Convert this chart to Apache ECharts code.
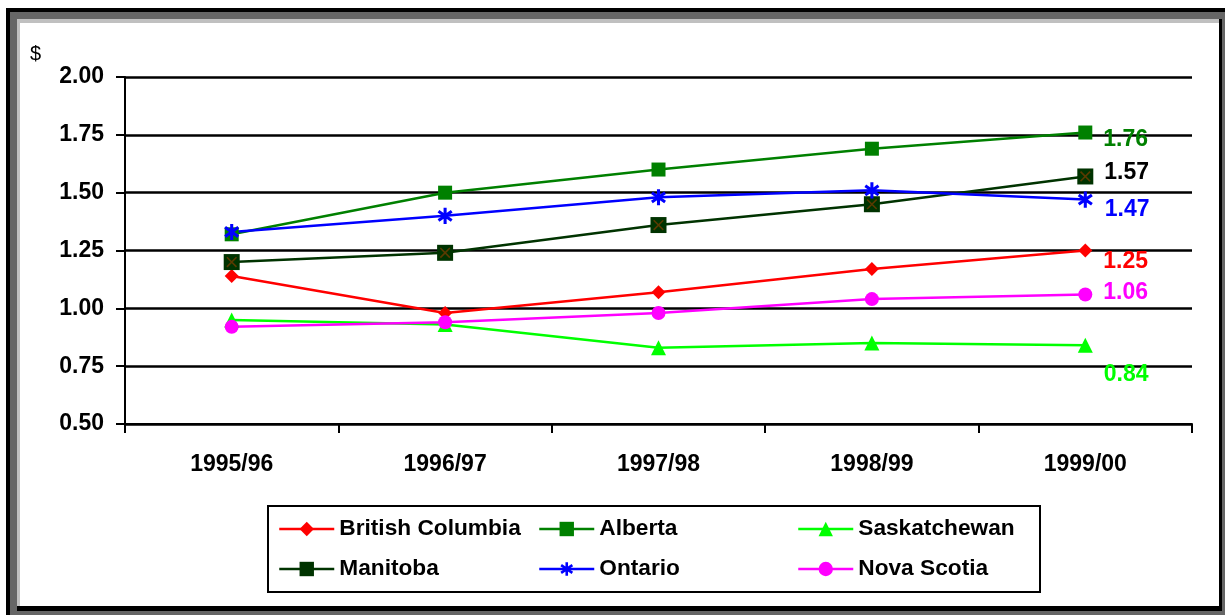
<!DOCTYPE html>
<html>
<head>
<meta charset="utf-8">
<script src="https://cdn.jsdelivr.net/npm/echarts@6/dist/echarts.min.js"></script>
<style>
  html, body { margin: 0; padding: 0; background: #fff; }
  #chart { width: 1225px; height: 615px; }
</style>
</head>
<body>
<div id="chart"></div>
<script>
// Cost per unit by province, fiscal years 1995/96 to 1999/00
const categories = ['1995/96', '1996/97', '1997/98', '1998/99', '1999/00'];
const yTicks = [0.5, 0.75, 1.0, 1.25, 1.5, 1.75, 2.0];

const britishColumbia = [1.14, 0.98, 1.07, 1.17, 1.25];
const alberta         = [1.32, 1.50, 1.60, 1.69, 1.76];
const saskatchewan    = [0.95, 0.93, 0.83, 0.85, 0.84];
const manitoba        = [1.20, 1.24, 1.36, 1.45, 1.57];
const ontario         = [1.33, 1.40, 1.48, 1.51, 1.47];
const novaScotia      = [0.92, 0.94, 0.98, 1.04, 1.06];

const FONT = '"Liberation Sans", Arial, sans-serif';

// Filled path made of thin bars radiating from the centre (asterisk / cross markers)
function barsPath(angles, half, w) {
  const c = 10;
  let d = '';
  angles.forEach(a => {
    const r = a * Math.PI / 180;
    const dx = Math.sin(r), dy = -Math.cos(r);
    const nx = Math.cos(r), ny = Math.sin(r);
    const p = [
      [c + dx * half + nx * w, c + dy * half + ny * w],
      [c + dx * half - nx * w, c + dy * half - ny * w],
      [c - dx * half - nx * w, c - dy * half - ny * w],
      [c - dx * half + nx * w, c - dy * half + ny * w]
    ].map(q => q[0].toFixed(2) + ' ' + q[1].toFixed(2));
    d += 'M' + p[0] + 'L' + p[1] + 'L' + p[2] + 'L' + p[3] + 'Z';
  });
  return 'path://M0 0ZM20 20Z' + d;
}
const asteriskSymbol = barsPath([0, 55, -55], 9.5, 1.8);
const crossSymbol = barsPath([45, -45], 9, 1.1);

// Last point carries a value label
function withEndLabel(values, color, dy) {
  const last = values.length - 1;
  return values.map((v, i) => i !== last ? v : {
    value: v,
    label: {
      show: true,
      position: 'right',
      distance: 11,
      offset: [0, dy],
      formatter: p => p.value.toFixed(2),
      color: color,
      fontFamily: FONT,
      fontWeight: 'bold',
      fontSize: 23
    }
  });
}

function lineSeries(name, values, color, symbol, size, labelColor, dy) {
  return {
    name: name,
    type: 'line',
    data: withEndLabel(values, labelColor, dy),
    symbol: symbol,
    symbolSize: size,
    showSymbol: true,
    lineStyle: { color: color, width: 2.5 },
    itemStyle: { color: color },
    emphasis: { disabled: true },
    animation: false
  };
}

const chart = echarts.init(document.getElementById('chart'));

const legendText = { fontFamily: FONT, fontWeight: 'bold', fontSize: 22.7, color: '#000', lineHeight: 24 };
function legendCol(left, names) {
  return {
    orient: 'vertical',
    left: left,
    top: 517,
    padding: 0,
    itemWidth: 55,
    itemHeight: 18,
    itemGap: 16,
    lineStyle: { width: 2.5 },
    textStyle: legendText,
    data: names,
    selectedMode: false
  };
}

chart.setOption({
  animation: false,
  backgroundColor: '#fff',
  graphic: {
    elements: [
      { type: 'rect', silent: true, shape: { x: 6, y: 8, width: 1219, height: 607 }, style: { fill: '#000' } },
      { type: 'rect', silent: true, shape: { x: 10, y: 12, width: 1215, height: 603 }, style: { fill: '#666666' } },
      { type: 'rect', silent: true, shape: { x: 17, y: 19, width: 1205, height: 592 }, style: { fill: '#000' } },
      { type: 'rect', silent: true, shape: { x: 17, y: 19, width: 1202, height: 587 }, style: { fill: '#c0c0c0' } },
      { type: 'rect', silent: true, shape: { x: 20, y: 23, width: 1199, height: 583 }, style: { fill: '#fff' } },
      { type: 'rect', silent: true, shape: { x: 268, y: 506, width: 772, height: 86 }, style: { fill: 'none', stroke: '#000', lineWidth: 2 } },
      { type: 'text', silent: true, x: 30, y: 44, style: { text: '$', font: '20px ' + FONT, fill: '#000' } }
    ]
  },
  legend: [
    legendCol(278, ['British Columbia', 'Manitoba']),
    legendCol(538, ['Alberta', 'Ontario']),
    legendCol(797, ['Saskatchewan', 'Nova Scotia'])
  ],
  grid: { left: 125, right: 33, top: 77, bottom: 191 },
  xAxis: {
    type: 'category',
    data: categories,
    boundaryGap: true,
    axisLine: { lineStyle: { color: '#000', width: 2 } },
    axisTick: { show: true, length: 9, interval: 0, lineStyle: { color: '#000', width: 2 } },
    axisLabel: { interval: 0, margin: 29, color: '#000', fontFamily: FONT, fontWeight: 'bold', fontSize: 23 },
    splitLine: { show: false }
  },
  yAxis: {
    type: 'value',
    min: yTicks[0],
    max: yTicks[yTicks.length - 1],
    interval: 0.25,
    axisLine: { show: true, lineStyle: { color: '#000', width: 2 } },
    axisTick: { show: true, length: 9, lineStyle: { color: '#000', width: 2 } },
    axisLabel: { margin: 21, color: '#000', fontFamily: FONT, fontWeight: 'bold', fontSize: 23, formatter: v => v.toFixed(2) },
    splitLine: { show: true, lineStyle: { color: '#000', width: 2.5 } }
  },
  series: [
    lineSeries('British Columbia', britishColumbia, '#ff0000', 'diamond', 14, '#ff0000', 11),
    lineSeries('Alberta', alberta, '#008000', 'rect', 14, '#008000', 7),
    lineSeries('Saskatchewan', saskatchewan, '#00ff00', 'triangle', 15, '#00ff00', 29),
    lineSeries('Manitoba', manitoba, '#003300', 'rect', 16, '#000000', -4),
    {
      // brown cross drawn over the Manitoba squares
      name: 'Manitoba',
      type: 'line',
      data: manitoba,
      symbol: crossSymbol,
      symbolSize: 15,
      lineStyle: { opacity: 0 },
      itemStyle: { color: '#5a3a00' },
      silent: true,
      emphasis: { disabled: true },
      animation: false
    },
    lineSeries('Ontario', ontario, '#0000ff', asteriskSymbol, 17, '#0000ff', 10),
    lineSeries('Nova Scotia', novaScotia, '#ff00ff', 'circle', 14, '#ff00ff', -2)
  ]
});
</script>
</body>
</html>
